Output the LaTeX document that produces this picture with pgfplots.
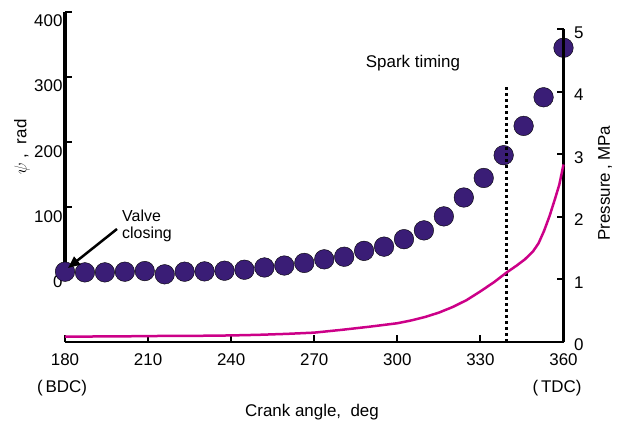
\documentclass[border=0pt]{standalone}
\usepackage{pgfplots}
\pgfplotsset{compat=1.18}
\usepackage{fontspec}
\setmainfont{Liberation Sans}
\usetikzlibrary{arrows.meta}
\definecolor{dotcol}{RGB}{58,29,118}
\definecolor{prescol}{RGB}{204,0,136}
\begin{document}
\begin{tikzpicture}
\pgfplotsset{
  every axis/.append style={
    scale only axis, width=498.5bp, height=330bp,
    xmin=180, xmax=360, at={(0,0)}, anchor=south west,
    tick align=inside, major tick length=7bp,
    every tick/.style={black, line width=2bp},
    /pgf/number format/assume math mode=true,
    tick label style={font=\fontsize{17}{19}\selectfont},
    clip=false,
  }
}
\begin{axis}[
  ymin=-107, ymax=400,
  axis x line*=bottom, axis y line*=left,
  x axis line style={line width=2.5bp, -},
  y axis line style={draw=none},
  xtick={180,210,...,360}, ytick={0,100,...,400},
  yticklabel style={yshift=-9bp, xshift=1bp},
  xticklabel style={yshift=-8bp},
]
\draw[line width=3.5bp] (axis cs:180,0) -- (axis cs:180,400);
\addplot[only marks, mark=*, mark size=9.8bp, mark options={fill=dotcol, draw=none}]
coordinates {
(180,1) (187.2,0) (194.4,0) (201.6,1) (208.8,2) (216,-3) (223.2,1) (230.4,1.5)
(237.6,2.5) (244.8,4) (252,7.5) (259.2,10.5) (266.4,14.5) (273.6,20) (280.8,24)
(288,33) (295.2,39.5) (302.4,51) (309.6,64.5) (316.8,86) (324,115) (331.2,145)
(338.4,180) (345.6,225) (352.8,269) (360,345)
};
\end{axis}
\begin{axis}[
  ymin=0, ymax=5.28,
  axis x line=none, axis y line*=right,
  y axis line style={draw=none},
  ytick={0,1,...,5},
  yticklabel style={yshift=-3bp, xshift=7bp},
]
\draw[line width=2.5bp] (axis cs:360,0) -- (axis cs:360,5);
\addplot[black, line width=3bp, dash pattern=on 3bp off 3bp] coordinates {(339.5,0) (339.5,4.12)};
\addplot[prescol, line width=2.5bp, line join=round] coordinates {
(180,0.085) (190,0.088) (200,0.09) (210,0.095) (220,0.098) (230,0.10) (240,0.105)
(250,0.115) (260,0.13) (270,0.15) (280,0.195) (290,0.245) (300,0.30) (305,0.345)
(310,0.40) (315,0.47) (320,0.56) (325,0.67) (330,0.81) (335,0.96) (339.4,1.11)
(343,1.22) (346,1.32) (349,1.45) (351,1.58) (353,1.78) (355,2.02) (357,2.30)
(358.5,2.52) (360,2.84)
};
\end{axis}
\node[rotate=90, font=\fontsize{17}{19}\selectfont] at (-43bp,195bp) {$\psi$\ ,\ \ rad};
\node[rotate=90, font=\fontsize{17}{19}\selectfont] at (540bp,159bp) {Pressure\,,\ MPa};
\node[font=\fontsize{17}{19}\selectfont] at (247bp,-70bp) {Crank angle,\ \ deg};
\node[font=\fontsize{17}{19}\selectfont] at (-3bp,-46bp) {(\,BDC)};
\node[font=\fontsize{17}{19}\selectfont] at (492bp,-46bp) {(\,TDC)};
\node[font=\fontsize{17}{19}\selectfont] at (348bp,279bp) {Spark timing};
\node[font=\fontsize{16}{17}\selectfont, align=left, anchor=north west, inner sep=0pt] at (57bp,132bp) {Valve\\closing};
\draw[line width=2.5bp, -{Triangle[length=12bp,width=10bp]}] (52bp,113bp) -- (3bp,74bp);
\pgfresetboundingbox
\path[use as bounding box] (-65bp,-79bp) rectangle (557bp,342bp);
\end{tikzpicture}
\end{document}
